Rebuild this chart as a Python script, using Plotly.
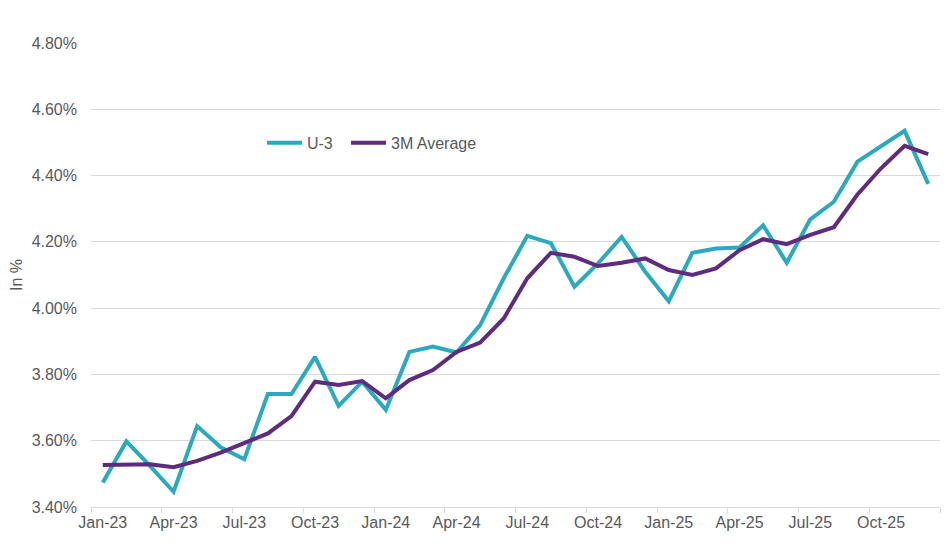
import plotly.graph_objects as go

months = ["Jan-23", "Feb-23", "Mar-23", "Apr-23", "May-23", "Jun-23", "Jul-23", "Aug-23", "Sep-23", "Oct-23", "Nov-23", "Dec-23",
          "Jan-24", "Feb-24", "Mar-24", "Apr-24", "May-24", "Jun-24", "Jul-24", "Aug-24", "Sep-24", "Oct-24", "Nov-24", "Dec-24",
          "Jan-25", "Feb-25", "Mar-25", "Apr-25", "May-25", "Jun-25", "Jul-25", "Aug-25", "Sep-25", "Oct-25", "Nov-25", "Dec-25"]

u3 = [3.474, 3.598, 3.524, 3.446, 3.644, 3.580, 3.544, 3.741, 3.741, 3.853, 3.705, 3.778,
      3.693, 3.868, 3.884, 3.866, 3.949, 4.090, 4.218, 4.196, 4.065, 4.135, 4.215, 4.110,
      4.021, 4.167, 4.180, 4.183, 4.250, 4.137, 4.268, 4.321, 4.442, 4.487, 4.535, 4.375]

avg3m = [3.527, 3.527, 3.529, 3.520, 3.539, 3.564, 3.594, 3.622, 3.674, 3.778, 3.768, 3.780,
         3.728, 3.783, 3.813, 3.868, 3.896, 3.969, 4.090, 4.167, 4.155, 4.127, 4.137, 4.150,
         4.115, 4.100, 4.120, 4.175, 4.208, 4.193, 4.221, 4.244, 4.343, 4.422, 4.490, 4.465]

y_ticks = [3.4, 3.6, 3.8, 4.0, 4.2, 4.4, 4.6, 4.8]

idx = list(range(len(months)))
label_idx = idx[::3]

fig = go.Figure()
fig.add_trace(go.Scatter(x=idx, y=u3, name="U-3", mode="lines", legend="legend",
                         line=dict(color="#2BA9BE", width=4)))
fig.add_trace(go.Scatter(x=idx, y=avg3m, name="3M Average", mode="lines", legend="legend2",
                         line=dict(color="#5E2B7E", width=4)))

font_col = "#595959"
fs = 16
leg_common = dict(orientation="h", y=0.785, xanchor="left", yanchor="middle",
                  bgcolor="rgba(0,0,0,0)", font=dict(size=fs, color=font_col),
                  itemwidth=35)
fig.update_layout(
    width=941, height=547,
    margin=dict(l=83, r=9, t=35, b=48, autoexpand=False),
    paper_bgcolor="white", plot_bgcolor="white",
    font=dict(family="Liberation Sans, Arial, sans-serif", size=fs, color=font_col),
    showlegend=True,
    legend=dict(x=0.2014, **leg_common),
    legend2=dict(x=0.3004, **leg_common),
    xaxis=dict(
        range=[-0.5, len(months) - 0.5],
        tickmode="array", tickvals=label_idx, ticktext=[months[i] for i in label_idx],
        ticks="", showgrid=False, zeroline=False, automargin=False,
        showline=True, linecolor="#D9D9D9", linewidth=1,
        minor=dict(ticks="outside", tick0=-0.5, dtick=3, ticklen=5, tickcolor="#D9D9D9", showgrid=False),
        ticklabelstandoff=1,
        tickfont=dict(size=fs, color=font_col),
    ),
    yaxis=dict(
        range=[3.4, 4.8],
        tickmode="array", tickvals=y_ticks, ticktext=[f"{v:.2f}%" for v in y_ticks],
        showgrid=True, gridcolor="#D9D9D9", gridwidth=1, zeroline=False,
        showline=False, ticks="", automargin=False,
        ticklabelstandoff=13,
        tickfont=dict(size=fs, color=font_col),
        title=dict(text="In %", font=dict(size=fs, color=font_col), standoff=10),
    ),
)

fig.write_html("out.html")
